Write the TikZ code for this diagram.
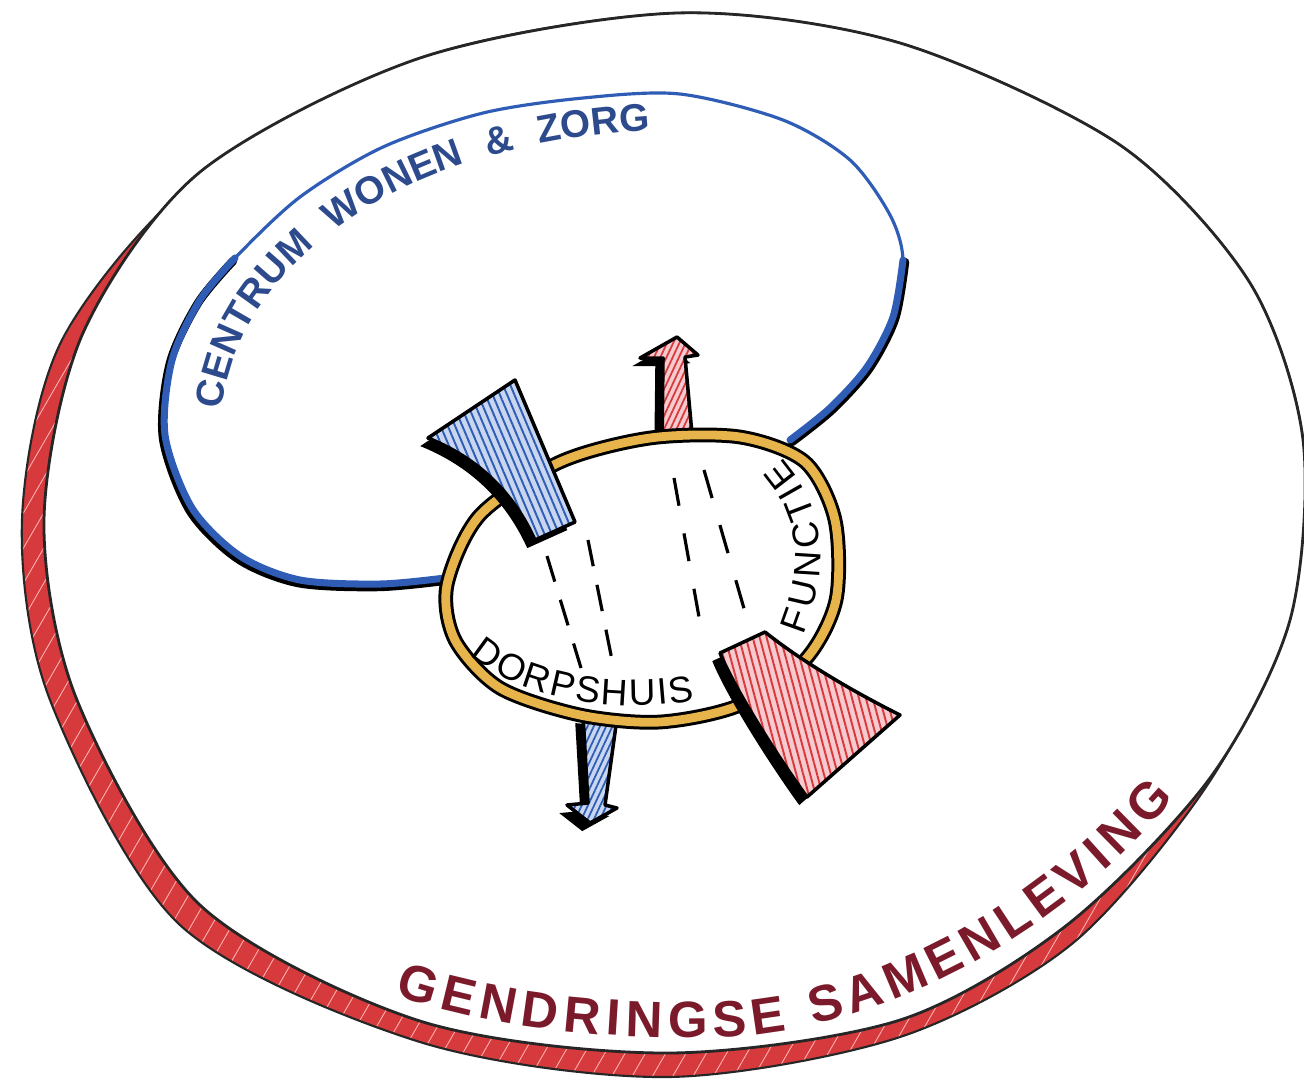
\documentclass[tikz,border=0pt]{standalone}
\usepackage{fontspec}
\setmainfont{Liberation Sans}
\usetikzlibrary{decorations.text}
\usetikzlibrary{patterns.meta}

\definecolor{bandred}{HTML}{D63A3C}
\definecolor{inkblue}{HTML}{2F5DB5}
\definecolor{textblue}{HTML}{2C4A8C}
\definecolor{textred}{HTML}{7A1A2A}
\definecolor{ochre}{HTML}{E6B44A}
\definecolor{paleblue}{HTML}{C9D6F0}
\definecolor{palered}{HTML}{F6CACE}

\begin{document}
\begin{tikzpicture}[x=0.01cm, y=-0.01cm,
            outerline/.style={draw=black!85, line width=0.8pt},
            bandfill/.style={draw=black!85, line width=0.6pt, preaction={fill=bandred},
                pattern={Lines[angle=60, distance=5pt, line width=0.25pt]}, pattern color=red!30!white},
            blueline/.style={draw=inkblue, line width=0.9pt, line cap=round},
            bluethick/.style={draw=inkblue, line width=2pt, line cap=round},
            blueshadow/.style={draw=black, line width=2.4pt, line cap=round},
            ovalring/.style={draw=black, line width=4.2pt, fill=white},
            ovalfill/.style={draw=ochre, line width=2.5pt},
            dashline/.style={draw=black, line width=0.9pt},
            hatchblue/.style={draw=black, line width=1pt, line join=round,
                preaction={fill=black, transform canvas={shift={(-2.2pt,-2.3pt)}}},
                preaction={fill=paleblue},
                pattern={Lines[angle=113, distance=1.9pt, line width=0.55pt]}, pattern color=inkblue},
            hatchred/.style={draw=black, line width=1pt, line join=round,
                preaction={fill=black, transform canvas={shift={(-2.2pt,-2.3pt)}}},
                preaction={fill=palered},
                pattern={Lines[angle=105, distance=1.9pt, line width=0.55pt]}, pattern color=bandred},
            arrowblue/.style={hatchblue, pattern={Lines[angle=65, distance=1.6pt, line width=0.5pt]}},
            arrowred/.style={hatchred, pattern={Lines[angle=65, distance=1.6pt, line width=0.5pt]}}
        ]
            \useasboundingbox (0,0) rectangle (1304,1081);
            \fill[white] (0,0) rectangle (1304,1081);

            % red band (shadow of the outer ring)
            \path[bandfill] plot[smooth cycle] coordinates {
                (677,13) (900,43) (1120,145) (1250,283) (1303,440) (1288,620)
                (1208,784) (1073,943) (900,1037) (667,1077) (420,1042) (180,925)
                (50,700) (22,520) (62,340) (198,178) (420,58)};

            % outer ring
            \path[outerline, fill=white] plot[smooth cycle] coordinates {
                (677,13) (900,43) (1120,145) (1250,283) (1303,440) (1290,620)
                (1210,778) (1067,925) (900,1020) (667,1053) (420,1021) (200,905)
                (77,700) (44,520) (83,333) (200,172) (420,58)};

            % centrum wonen en zorg loop
            \begin{scope}[shift={(-2,3)}]
                \draw[blueshadow] plot[smooth] coordinates {(445,578) (380,584) (300,580) (240,556)
                    (192,508) (165,435) (172,360) (200,300) (235,258)};
            \end{scope}
            \begin{scope}[shift={(2,2)}]
                \draw[blueshadow] plot[smooth] coordinates {(903,260) (893,317) (867,367) (830,408) (790,440)};
            \end{scope}
            \draw[blueline] plot[smooth] coordinates {(445,578) (380,584) (300,580) (240,556)
                (192,508) (165,435) (172,360) (200,300) (235,258) (300,197) (383,147)
                (483,113) (583,98) (680,94) (783,120) (850,160) (890,215) (903,260)
                (893,317) (867,367) (830,408) (790,440)};
            \draw[bluethick] plot[smooth] coordinates {(445,578) (380,584) (300,580) (240,556)
                (192,508) (165,435) (172,360) (200,300) (235,258)};
            \draw[bluethick] plot[smooth] coordinates {(903,260) (893,317) (867,367) (830,408) (790,440)};

            % arrows up and down
            \draw[arrowred] (662,445) -- (663,358) -- (640,358) -- (677,337) -- (698,355)
                -- (685,357) -- (693,445) -- cycle;
            \draw[arrowblue] (583,715) -- (617,718) -- (605,805) -- (617,808) -- (590,823)
                -- (567,805) -- (588,803) -- cycle;

            % dorpshuis oval
            \path[ovalring] plot[smooth cycle] coordinates {
                (447,585) (480,515) (560,462) (650,438) (740,437) (805,462) (835,520)
                (836,600) (805,660) (740,705) (660,722) (580,715) (500,688) (455,640)};
            \path[ovalfill] plot[smooth cycle] coordinates {
                (447,585) (480,515) (560,462) (650,438) (740,437) (805,462) (835,520)
                (836,600) (805,660) (740,705) (660,722) (580,715) (500,688) (455,640)};

            % dashes inside
            \draw[dashline, dash pattern=on 7.6pt off 5.4pt] (547,556) -- (581,668);
            \draw[dashline, dash pattern=on 7.6pt off 5.4pt] (588,540) -- (613,665);
            \draw[dashline, dash pattern=on 8pt off 8pt] (674,478) -- (699,617);
            \draw[dashline, dash pattern=on 8.3pt off 8pt] (704,470) -- (745,612);

            % wedges
            \draw[hatchblue] (428,438) -- (515,380) -- (575,522) -- (535,540)
                .. controls (510,485) and (470,455) .. cycle;
            \draw[hatchred] (720,653) -- (765,632) .. controls (800,660) and (850,690) .. (900,715)
                -- (807,797) .. controls (780,760) and (735,690) .. cycle;

            % labels along the curves
            \path[decorate, decoration={text along path, text align=fit to path stretching spaces,
                text color=textblue, text={|\fontsize{11}{13}\selectfont\bfseries|CENTRUM WONEN {\&} ZORG}}]
                (222,410) .. controls (230,320) and (300,240) .. (400,190)
                .. controls (470,155) and (560,135) .. (650,130);
            \path[decorate, decoration={text along path, text align=fit to path, text color=textred,
                text={|\fontsize{14.5}{17}\selectfont\bfseries|GENDRINGSE SAMENLEVING}}]
                (395,995) .. controls (500,1030) and (620,1042) .. (740,1036)
                .. controls (880,1025) and (1050,945) .. (1175,798);
            \path[decorate, decoration={text along path, text align=fit to path, text color=black,
                text={|\fontsize{10.5}{12}\selectfont|DORPSHUIS}}]
                (470,655) .. controls (520,700) and (620,715) .. (695,700);
            \path[decorate, decoration={text along path, text align=fit to path, text color=black,
                text={|\fontsize{10.5}{12}\selectfont|FUNCTIE}}]
                (803,635) .. controls (828,572) and (830,512) .. (782,458);

        \end{tikzpicture}
\end{document}
